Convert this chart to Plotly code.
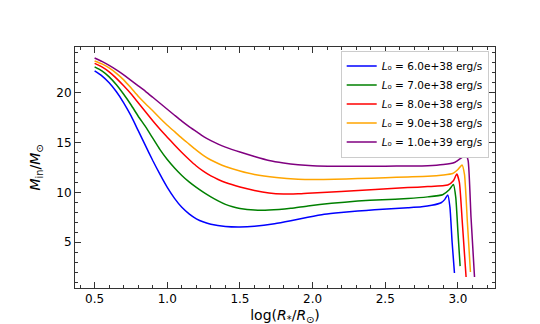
import plotly.graph_objects as go

# log(R*/Rsun) and M_in/Msun for each L0
x_blue = [0.5, 0.55, 0.6, 0.65, 0.7, 0.75, 0.8, 0.85, 0.9, 0.95, 1.0, 1.05, 1.1, 1.15, 1.2, 1.25, 1.3, 1.4, 1.5, 1.6,
          1.738, 1.85, 1.967, 2.08, 2.196, 2.31, 2.426, 2.54, 2.655, 2.75, 2.82, 2.884, 2.91, 2.93, 2.945, 2.96, 2.976]
y_blue = [22.2, 21.7, 21.0, 20.1, 19.0, 17.7, 16.2, 14.7, 13.2, 11.8, 10.5, 9.4, 8.5, 7.85, 7.35, 7.02, 6.8, 6.58,
          6.53, 6.6, 6.85, 7.15, 7.5, 7.8, 7.99, 8.13, 8.25, 8.35, 8.45, 8.55, 8.7, 8.96, 9.3, 9.75, 8.5, 5.0, 1.9]

x_green = [0.5, 0.55, 0.6, 0.65, 0.7, 0.75, 0.8, 0.85, 0.9, 0.95, 1.0, 1.05, 1.1, 1.15, 1.2, 1.25, 1.3, 1.35, 1.4,
           1.45, 1.5, 1.6, 1.7, 1.85, 1.967, 2.13, 2.31, 2.48, 2.655, 2.792, 2.895, 2.94, 2.969, 2.985, 3.0, 3.015]
y_green = [22.6, 22.2, 21.6, 20.8, 19.85, 18.8, 17.65, 16.6, 15.45, 14.3, 13.3, 12.45, 11.7, 11.05, 10.5, 10.0, 9.55,
           9.15, 8.8, 8.55, 8.38, 8.22, 8.22, 8.4, 8.64, 8.9, 9.13, 9.27, 9.38, 9.55, 9.77, 10.26, 10.8, 9.5, 6.0, 2.6]

x_red = [0.5, 0.55, 0.6, 0.65, 0.7, 0.75, 0.8, 0.85, 0.9, 0.95, 1.0, 1.05, 1.1, 1.15, 1.2, 1.25, 1.3, 1.35, 1.4,
         1.5, 1.6, 1.7, 1.8, 1.9, 2.0, 2.196, 2.43, 2.655, 2.792, 2.93, 2.97, 2.992, 3.01, 3.03, 3.056]
y_red = [22.95, 22.6, 22.1, 21.45, 20.7, 19.9, 19.0, 18.1, 17.2, 16.35, 15.55, 14.75, 14.0, 13.3, 12.65, 12.1, 11.65,
         11.3, 11.0, 10.55, 10.2, 9.95, 9.85, 9.86, 9.95, 10.1, 10.3, 10.48, 10.58, 10.74, 11.2, 11.85, 11.0, 7.0, 1.5]

x_orange = [0.5, 0.55, 0.6, 0.65, 0.7, 0.75, 0.8, 0.85, 0.9, 0.95, 1.0, 1.05, 1.1, 1.15, 1.2, 1.25, 1.3, 1.35, 1.4,
            1.5, 1.6, 1.75, 1.9, 2.0, 2.15, 2.31, 2.5, 2.655, 2.792, 2.9, 2.964, 3.0, 3.028, 3.045, 3.065, 3.086]
y_orange = [23.2, 22.9, 22.5, 21.95, 21.3, 20.5, 19.65, 18.9, 18.2, 17.45, 16.75, 16.1, 15.45, 14.85, 14.25, 13.7,
            13.25, 12.9, 12.6, 12.15, 11.8, 11.5, 11.33, 11.29, 11.32, 11.39, 11.47, 11.55, 11.62, 11.75, 11.9, 12.3,
            12.75, 11.8, 7.0, 2.0]

x_purple = [0.5, 0.55, 0.6, 0.65, 0.7, 0.75, 0.8, 0.85, 0.9, 0.95, 1.0, 1.05, 1.1, 1.15, 1.2, 1.25, 1.3, 1.35, 1.4,
            1.5, 1.6, 1.7, 1.8, 1.9, 2.0, 2.15, 2.31, 2.5, 2.655, 2.792, 2.9, 2.976, 3.021, 3.055, 3.07, 3.09, 3.114]
y_purple = [23.5, 23.15, 22.75, 22.3, 21.8, 21.25, 20.7, 20.15, 19.55, 18.95, 18.35, 17.75, 17.15, 16.6, 16.1, 15.6,
            15.2, 14.85, 14.55, 14.05, 13.6, 13.2, 12.95, 12.78, 12.68, 12.62, 12.62, 12.63, 12.65, 12.68, 12.8, 13.0,
            13.45, 13.7, 13.2, 7.5, 1.5]

labels = ["6.0e+38", "7.0e+38", "8.0e+38", "9.0e+38", "1.0e+39"]
colors = ["blue", "green", "red", "orange", "purple"]

fig = go.Figure()
series = [(x_blue, y_blue), (x_green, y_green), (x_red, y_red), (x_orange, y_orange), (x_purple, y_purple)]
for (xs, ys), lab, col in zip(series, labels, colors):
    fig.add_trace(go.Scatter(
        x=xs, y=ys, mode="lines",
        line=dict(color=col, width=1.5, shape="spline", smoothing=0.5),
        name="<i>L</i>₀ = " + lab + " erg/s",
    ))

axis_common = dict(
    showline=True, linecolor="#333", linewidth=1, mirror="allticks",
    ticks="inside", ticklen=6, tickwidth=1, tickcolor="#333",
    showgrid=False, zeroline=False,
    tickfont=dict(family="DejaVu Sans", size=12, color="black"),
)

fig.update_xaxes(
    **axis_common, range=[0.365, 3.255], dtick=0.5, tick0=0.5, tickformat=".1f",
    minor=dict(ticks="inside", ticklen=3, dtick=0.1, tick0=0.5, tickcolor="#333", showgrid=False),
    title=dict(text="log(<i>R</i><sub>*</sub>/<i>R</i><sub>⊙</sub>)",
               font=dict(family="DejaVu Sans", size=14, color="black"), standoff=4),
)
fig.update_yaxes(
    **axis_common, range=[0.4, 24.6], dtick=5, tick0=0,
    minor=dict(ticks="inside", ticklen=3, dtick=1, tickcolor="#333", showgrid=False),
    title=dict(text="<i>M</i><sub>in</sub>/<i>M</i><sub>⊙</sub>",
               font=dict(family="DejaVu Sans", size=14, color="black"), standoff=12),
)

fig.update_layout(
    width=540, height=324,
    margin=dict(l=67, r=53, t=39, b=37),
    plot_bgcolor="white", paper_bgcolor="white",
    font=dict(family="DejaVu Sans", color="black"),
    showlegend=True,
    legend=dict(
        x=0.985, y=0.985, xanchor="right", yanchor="top",
        bgcolor="white", bordercolor="#ccc", borderwidth=1,
        font=dict(size=10.5), tracegroupgap=0, itemwidth=30,
    ),
)

fig.write_html("out.html")
